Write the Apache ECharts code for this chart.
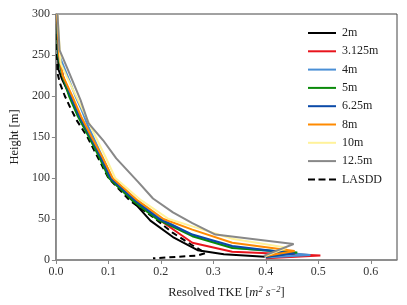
<!DOCTYPE html>
<html><head><meta charset="utf-8">
<script src="https://cdn.jsdelivr.net/npm/echarts@6/dist/echarts.min.js"></script>
<style>html,body{margin:0;padding:0;background:#fff}#c{width:407px;height:305px}</style>
</head><body><div id="c"></div>
<script>
// [TKE, height]
const res_2m   = [[0.002,300],[0.004,250],[0.005,232],[0.012,220],[0.027,200],[0.045,175],[0.065,150],[0.085,125],[0.102,100],[0.145,73],[0.18,48],[0.223,28],[0.27,12],[0.32,7],[0.398,4]];
const res_3125 = [[0.002,300],[0.005,250],[0.015,220],[0.030,200],[0.038,187],[0.047,171],[0.066,150],[0.087,125],[0.105,100],[0.15,73],[0.195,50],[0.26,21],[0.336,10],[0.504,5.5],[0.40,2]];
const res_4m   = [[0.002,300],[0.006,250],[0.025,220],[0.037,200],[0.049,183],[0.060,165],[0.071,150],[0.089,125],[0.107,100],[0.152,73],[0.2,50],[0.265,29],[0.34,15],[0.485,6],[0.40,3]];
const res_5m   = [[0.002,300],[0.004,250],[0.012,225],[0.025,200],[0.042,175],[0.063,150],[0.083,125],[0.101,100],[0.145,73],[0.192,50],[0.26,29],[0.336,14.6],[0.46,9],[0.40,4]];
const res_625m = [[0.002,300],[0.005,250],[0.013,225],[0.028,200],[0.045,175],[0.066,150],[0.086,125],[0.104,100],[0.15,73],[0.197,50],[0.26,31],[0.336,17],[0.455,8],[0.40,4]];
const res_8m   = [[0.002,300],[0.006,250],[0.013,225],[0.031,200],[0.048,175],[0.068,150],[0.089,125],[0.108,100],[0.155,73],[0.205,50],[0.26,37],[0.336,21],[0.455,11],[0.40,5]];
const res_10m  = [[0.003,300],[0.009,240],[0.021,223],[0.058,174],[0.076,150],[0.095,125],[0.113,100],[0.162,73],[0.215,50],[0.26,41],[0.336,26],[0.44,15],[0.40,5]];
const res_125m = [[0.003,300],[0.007,256],[0.021,235],[0.047,195],[0.062,167],[0.090,146],[0.115,124],[0.157,95],[0.185,75],[0.223,58],[0.26,45],[0.304,31],[0.453,19.5],[0.396,5]];
const lasdd    = [[0.002,300],[0.002,250],[0.003,228],[0.008,215],[0.017,200],[0.028,185],[0.040,170],[0.060,150],[0.080,125],[0.100,100],[0.140,73],[0.19,50],[0.223,33],[0.26,18],[0.285,8.5],[0.27,5.5],[0.185,2]];

const names  = ['2m','3.125m','4m','5m','6.25m','8m','10m','12.5m','LASDD'];
const colors = ['#000000','#e8141c','#4a8fd6','#0a8a0a','#0b4aa8','#ff8a00','#fff29a','#888888','#000000'];
const datas  = [res_2m,res_3125,res_4m,res_5m,res_625m,res_8m,res_10m,res_125m,lasdd];
const xTicks = [0,0.1,0.2,0.3,0.4,0.5,0.6];
const yTicks = [0,50,100,150,200,250,300];

const font = 'Liberation Serif';
const solidIcon = 'path://M0,0H28V2H0Z';
const dashIcon = 'path://M0,0H7V2H0Z M10.5,0H17.5V2H10.5Z M21,0H28V2H21Z';
const chart = echarts.init(document.getElementById('c'), null, {renderer:'canvas'});
chart.setOption({
  animation:false,
  backgroundColor:'#fff',
  grid:{left:52,right:10,top:14,bottom:45,show:true,borderColor:'#444',borderWidth:1},
  legend:{
    orient:'vertical', left:303, top:22, itemWidth:28, itemHeight:2, itemGap:6.3,
    textStyle:{fontFamily:font,fontSize:12,color:'#222',padding:[0,0,0,1]},
    data:names.map((n,i)=>({name:n, icon:i===8?dashIcon:solidIcon}))
  },
  xAxis:{
    type:'value', min:0, max:0.65, interval:0.1,
    name:'{n|Resolved TKE [}{i|m}{s|2}{n| }{i|s}{s|−2}{n|]}',
    nameLocation:'middle', nameGap:25,
    nameTextStyle:{rich:{
      n:{fontFamily:font,fontSize:12.5,color:'#222'},
      i:{fontFamily:font,fontSize:12.5,fontStyle:'italic',color:'#222'},
      s:{fontFamily:font,fontSize:8.5,fontStyle:'italic',color:'#222',verticalAlign:'top',padding:[0,0,7,0]}
    }},
    axisLine:{show:true,onZero:false,lineStyle:{color:'#888',width:1.5}},
    axisTick:{show:true,length:4,lineStyle:{color:'#888'}},
    axisLabel:{fontFamily:font,fontSize:12,color:'#333',margin:6,showMaxLabel:false,
      formatter:v=>xTicks.some(t=>Math.abs(t-v)<1e-9)?v.toFixed(1):''},
    splitLine:{show:false}
  },
  yAxis:{
    type:'value', min:0, max:300, interval:50,
    name:'Height [m]', nameLocation:'middle', nameGap:34,
    nameTextStyle:{fontFamily:font,fontSize:12.5,color:'#222'},
    axisLine:{show:true,onZero:false,lineStyle:{color:'#888',width:1.5}},
    axisTick:{show:true,length:4,lineStyle:{color:'#888'}},
    axisLabel:{fontFamily:font,fontSize:12,color:'#333',margin:6,
      formatter:v=>yTicks.includes(v)?String(v):''},
    splitLine:{show:false}
  },
  series:names.map((n,i)=>({
    name:n, type:'line', data:datas[i], symbol:'none', z:2+(i===8?0:i),
    lineStyle:{color:colors[i],width:2,type:i===8?[6,4]:'solid'},
    itemStyle:{color:colors[i]}
  }))
});
</script></body></html>
